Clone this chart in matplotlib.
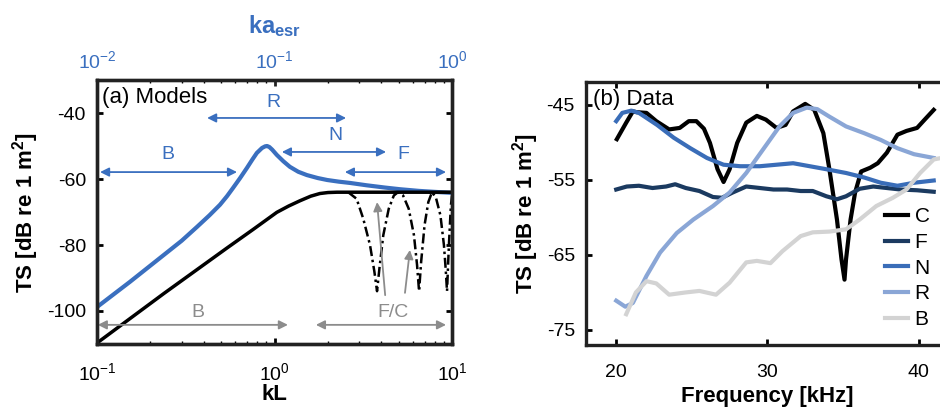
import numpy as np
import matplotlib
matplotlib.use('Agg')
import matplotlib.pyplot as plt
from matplotlib.ticker import NullFormatter

plt.rcParams['font.family'] = ['Liberation Sans', 'DejaVu Sans']
plt.rcParams['mathtext.fontset'] = 'custom'
plt.rcParams['mathtext.rm'] = 'Liberation Sans'
plt.rcParams['mathtext.bf'] = 'Liberation Sans:bold'
plt.rcParams['mathtext.default'] = 'regular'
plt.rcParams['axes.unicode_minus'] = False

# ---- (a) models: kL vs TS
blue_kl = [0.1, 0.153, 0.238, 0.30, 0.366, 0.43, 0.493, 0.54, 0.584, 0.64, 0.70, 0.75, 0.795, 0.85, 0.885, 0.908,
           0.935, 0.97, 1.03, 1.12, 1.22, 1.36, 1.52, 1.75, 1.98, 2.3, 2.67, 3.3, 4.2, 5.1, 6.5, 8.0, 10]
blue_ts = [-98.8, -91.2, -83.0, -78.7, -74.5, -71.0, -67.8, -65.2, -62.7, -59.7, -56.6, -54.1, -52.1, -50.6, -50.1, -50.0,
           -50.3, -51.1, -52.7, -54.6, -56.3, -57.8, -58.8, -59.7, -60.3, -60.8, -61.2, -61.9, -62.6, -63.1, -63.6, -63.9, -64.2]

black_kl = [0.1, 0.238, 0.54, 0.757, 1.03, 1.2, 1.39, 1.6, 1.8, 2.0, 2.25, 3.0, 5.0, 10]
black_ts = [-109.7, -94.7, -80.9, -75.3, -70.1, -68.2, -66.6, -65.2, -64.4, -64.1, -64.0, -64.0, -64.0, -64.0]

lobe_kl = [2.6, 2.9, 3.16, 3.45, 3.65, 3.78, 3.9, 4.1, 4.4, 4.7, 4.96, 5.3, 5.7, 6.1, 6.35, 6.52,
           6.7, 7.0, 7.35, 7.71, 8.1, 8.6, 9.0, 9.2, 9.37, 9.6, 9.85, 10]
lobe_ts = [-64, -66, -72, -80, -88, -94, -87, -77, -69, -65, -64, -65, -69, -77, -86, -94,
           -85, -74, -67, -64, -65.5, -71, -80, -87, -94, -80, -68, -65]

# regime arrows (start, end, height) and labels
blue_arrows = [(0.104, 0.615, -57.9), (0.417, 2.53, -41.5), (1.10, 4.25, -51.8), (2.49, 9.25, -57.9)]
blue_labels = [('B', 0.251, -52.7), ('R', 0.98, -36.7), ('N', 2.19, -46.7), ('F', 5.3, -52.7)]
gray_arrows = [(0.101, 1.19, -104.2), (1.71, 9.25, -104.2)]
gray_labels = [('B', 0.371, -100.6), ('F/C', 4.65, -100.6)]
gray_pointers = [((4.2, -95.2), (3.78, -67.0)), ((5.43, -94.5), (5.79, -81.5))]

# ---- (b) data: frequency vs TS
f_C = [20.04, 20.66, 21.1, 21.33, 22.0, 22.65, 23.5, 24.2, 24.8, 25.3, 25.8, 26.2, 26.7, 27.1, 27.5, 28.0,
       28.6, 29.3, 29.9, 30.6, 31.2, 31.7, 32.5, 33.1, 33.7, 34.1, 34.6, 34.9, 35.1, 35.2, 35.5, 35.8,
       36.2, 36.8, 37.3, 37.9, 38.6, 39.2, 39.9, 40.4, 41.0]
ts_C = [-49.6, -47.4, -45.9, -46.0, -46.1, -47.2, -48.3, -48.1, -47.2, -47.2, -48.2, -50.1, -53.6, -55.3, -53.6, -50.1,
        -47.4, -46.5, -47.0, -48.1, -47.7, -45.9, -44.9, -45.7, -48.8, -53.6, -60.3, -65.6, -68.3, -65.6, -60.3, -56.7,
        -53.9, -53.4, -52.8, -51.4, -49.0, -48.5, -48.1, -47.0, -45.7]

f_F = [20.0, 20.7, 21.5, 22.4, 23.3, 23.9, 24.6, 25.5, 26.4, 27.0, 27.7, 28.6, 29.5, 30.4, 31.3, 32.2,
       33.0, 33.9, 34.6, 35.2, 36.1, 37.0, 37.9, 38.8, 39.9, 41.0]
ts_F = [-56.3, -55.9, -55.8, -56.1, -55.9, -55.6, -56.1, -56.5, -57.3, -57.4, -56.7, -55.9, -56.1, -56.3, -56.3, -56.5,
        -56.5, -57.2, -57.6, -57.2, -56.2, -55.9, -56.1, -56.3, -56.4, -56.6]

f_N = [20.0, 20.4, 21.0, 21.5, 22.7, 23.8, 24.9, 26.0, 27.1, 28.2, 29.5, 30.6, 31.7, 32.8, 33.9, 35.2,
       36.4, 37.5, 38.6, 39.7, 41.0]
ts_N = [-47.2, -46.1, -45.8, -46.1, -47.7, -49.4, -50.8, -52.1, -53.0, -53.2, -53.2, -53.0, -52.8, -53.2, -53.6, -54.1,
        -54.7, -55.4, -55.8, -55.4, -55.1]

f_R = [20.0, 20.6, 21.1, 22.0, 22.9, 24.0, 25.1, 26.4, 27.5, 28.6, 29.7, 30.8, 31.7, 32.6, 33.3, 34.1,
       35.2, 36.4, 37.5, 38.6, 39.7, 41.0]
ts_R = [-71.1, -71.9, -71.4, -67.8, -64.7, -62.1, -60.3, -58.5, -56.7, -54.1, -51.0, -47.9, -46.1, -45.4, -45.6, -46.6,
        -47.9, -48.8, -49.7, -50.8, -51.6, -52.1]

f_B = [20.66, 21.3, 22.0, 22.65, 23.5, 24.6, 25.5, 26.6, 27.5, 28.6, 29.3, 30.2, 31.0, 32.2, 33.0, 34.1,
       35.2, 36.1, 37.2, 38.3, 39.2, 40.1, 41.0, 41.5]
ts_B = [-72.9, -70.0, -68.5, -68.8, -70.3, -70.0, -69.8, -70.3, -68.7, -66.0, -65.8, -66.1, -64.5, -62.5, -62.0, -61.9,
        -61.6, -60.3, -58.5, -57.4, -56.3, -54.1, -52.3, -52.1]

BLUE = '#3A6FBF'
GRAY = '#8C8C8C'
data_series = [('C', f_C, ts_C, 'black'), ('F', f_F, ts_F, '#1B3A60'), ('N', f_N, ts_N, '#3A6DB8'),
               ('R', f_R, ts_R, '#8AA6D6'), ('B', f_B, ts_B, '#D3D3D3')]


def style_axes(ax):
    for s in ax.spines.values():
        s.set_linewidth(2.4)
        s.set_color('#222222')
    ax.tick_params(which='major', direction='in', length=4, width=2, labelsize=14, pad=8)
    ax.tick_params(which='minor', direction='in', length=2, width=1)


fig = plt.figure(figsize=(9.4, 4.07), dpi=100)

ax1 = fig.add_axes([0.1032, 0.1548, 0.3777, 0.6486])
ax1.plot(blue_kl, blue_ts, color=BLUE, lw=3)
ax1.plot(black_kl, black_ts, color='black', lw=2.5)
ax1.plot(lobe_kl, lobe_ts, color='black', lw=1.8, ls=(0, (4, 1.5, 1, 1.5)))
ax1.set_xscale('log')
ax1.set_xlim(0.1, 10)
ax1.set_ylim(-110, -30)
ax1.set_yticks([-100, -80, -60, -40])
ax1.xaxis.set_minor_formatter(NullFormatter())
ax1.tick_params(top=False, right=True)
style_axes(ax1)
ax1.tick_params(axis='x', pad=13)
ax1.set_xlabel('kL', fontsize=16, fontweight='bold', labelpad=0)
ax1.set_ylabel(r'TS [dB re 1 m$^{\mathbf{2}}$]', fontsize=16, fontweight='bold', labelpad=4)
ax1.text(0.015, 0.975, '(a) Models', transform=ax1.transAxes, fontsize=16, va='top', ha='left')

for x0, x1, y in blue_arrows:
    ax1.annotate('', xy=(x1, y), xytext=(x0, y),
                 arrowprops=dict(arrowstyle='<|-|>', color=BLUE, lw=1.3, mutation_scale=13, shrinkA=0, shrinkB=0))
for t, x, y in blue_labels:
    ax1.text(x, y, t, color=BLUE, fontsize=14, ha='center', va='center')
for x0, x1, y in gray_arrows:
    ax1.annotate('', xy=(x1, y), xytext=(x0, y),
                 arrowprops=dict(arrowstyle='<|-|>', color=GRAY, lw=1.3, mutation_scale=13, shrinkA=0, shrinkB=0))
for t, x, y in gray_labels:
    ax1.text(x, y, t, color=GRAY, fontsize=14, ha='center', va='center')
for tail, head in gray_pointers:
    ax1.annotate('', xy=head, xytext=tail,
                 arrowprops=dict(arrowstyle='-|>', color=GRAY, lw=1.3, mutation_scale=13, shrinkA=0, shrinkB=0))

top = ax1.twiny()
top.set_xscale('log')
top.set_xlim(0.01, 1)
top.xaxis.set_minor_formatter(NullFormatter())
style_axes(top)
top.tick_params(axis='x', colors='#222222', labelcolor=BLUE, pad=6)
top.set_xlabel(r'$\mathbf{ka}_{\mathbf{esr}}$', color=BLUE, fontsize=17, labelpad=12)

ax2 = fig.add_axes([0.6234, 0.1523, 0.386, 0.646])
for name, f, ts, c in data_series:
    ax2.plot(f, ts, color=c, lw=3, label=name)
ax2.set_xlim(18, 42)
ax2.set_ylim(-77, -42)
ax2.set_xticks([20, 30, 40])
ax2.set_yticks([-75, -65, -55, -45])
ax2.tick_params(top=True, right=True)
style_axes(ax2)
ax2.tick_params(axis='x', pad=14)
ax2.set_xlabel('Frequency [kHz]', fontsize=16, fontweight='bold', labelpad=3)
ax2.set_ylabel(r'TS [dB re 1 m$^{\mathbf{2}}$]', fontsize=16, fontweight='bold', labelpad=4)
ax2.text(0.02, 0.975, '(b) Data', transform=ax2.transAxes, fontsize=16, va='top', ha='left')
ax2.legend(loc='lower left', bbox_to_anchor=(0.785, 0.005), frameon=False, fontsize=15,
           handlelength=1.1, handletextpad=0.3, labelspacing=0.32, borderpad=0.2)

fig.savefig('out.png', dpi=100)
